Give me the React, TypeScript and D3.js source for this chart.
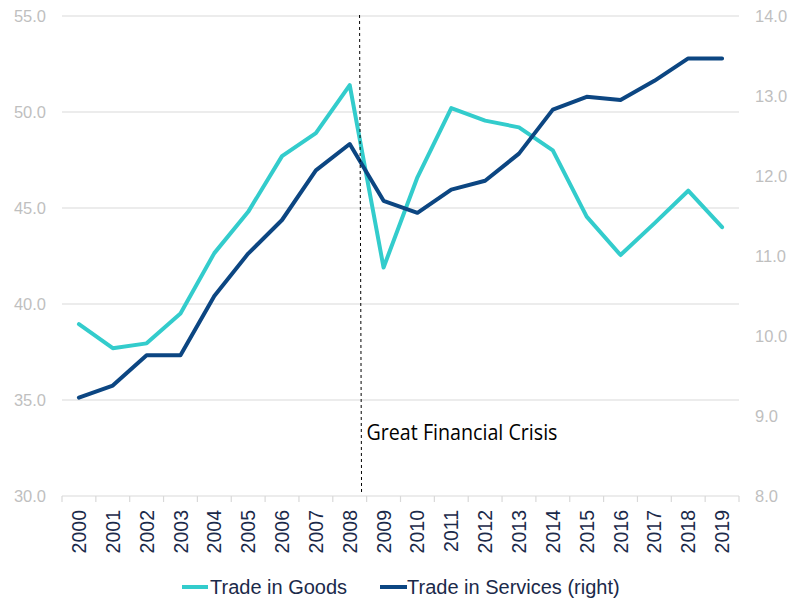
import React from "react";
import * as d3 from "d3";

const years = ["2000","2001","2002","2003","2004","2005","2006","2007","2008","2009","2010","2011","2012","2013","2014","2015","2016","2017","2018","2019"];
const goods = [38.95, 37.7, 37.95, 39.5, 42.65, 44.8, 47.7, 48.9, 51.4, 41.9, 46.6, 50.2, 49.55, 49.2, 48.0, 44.55, 42.55, 44.2, 45.9, 44.0];
const services = [9.23, 9.38, 9.76, 9.76, 10.5, 11.03, 11.45, 12.07, 12.4, 11.69, 11.54, 11.83, 11.94, 12.28, 12.83, 12.99, 12.95, 13.19, 13.47, 13.47];
const leftTicks = [30, 35, 40, 45, 50, 55];
const rightTicks = [8, 9, 10, 11, 12, 13, 14];
const seriesNames = ["Trade in Goods", "Trade in Services (right)"];
const annotation = "Great Financial Crisis";

const W = 790, H = 599;
const TEAL = "#33CCCC";
const NAVY = "#0C4682";
const TEXT_NAVY = "#1B2A4A";
const GREY_TXT = "#BFBFBF";
const GRID = "#D9D9D9";

export default function App() {
  const x = d3.scaleBand<string>().domain(years).range([62, 739]).padding(0);
  const bw = x.bandwidth();
  const cx = (y: string) => (x(y) as number) + bw / 2;
  const yL = d3.scaleLinear().domain([30, 55]).range([496, 16]);
  const yR = d3.scaleLinear().domain([8, 14]).range([496, 16]);

  const lineG = d3.line<number>().x((_, i) => cx(years[i])).y((d) => yL(d));
  const lineS = d3.line<number>().x((_, i) => cx(years[i])).y((d) => yR(d));

  const boundaries = years.map((y) => x(y) as number).concat([739]);
  const crisisX = cx("2008") + bw * 0.32;
  const font = "'Liberation Sans', Arial, sans-serif";

  return (
    <svg width={W} height={H} style={{ position: "absolute", left: 0, top: 0, background: "#fff" }} fontFamily={font}>
      {leftTicks.map((t) => (
        <line key={"g" + t} x1={62} x2={739} y1={yL(t)} y2={yL(t)} stroke={GRID} strokeWidth={1.2} />
      ))}
      {boundaries.map((b, i) => (
        <line key={"t" + i} x1={b} x2={b} y1={496} y2={502} stroke={GRID} strokeWidth={1.2} />
      ))}
      {leftTicks.map((t) => (
        <text key={"l" + t} x={46} y={yL(t)} dy="0.35em" textAnchor="end" fontSize={16.5} fill={GREY_TXT}>
          {t.toFixed(1)}
        </text>
      ))}
      {rightTicks.map((t) => (
        <text key={"r" + t} x={755} y={yR(t)} dy="0.35em" textAnchor="start" fontSize={16.5} fill={GREY_TXT}>
          {t.toFixed(1)}
        </text>
      ))}
      {years.map((y) => (
        <text key={"y" + y} transform={`translate(${cx(y)},510) rotate(-90)`} textAnchor="end" dy="0.36em" fontSize={19.5} fill={TEXT_NAVY}>
          {y}
        </text>
      ))}
      <path d={lineG(goods) || ""} fill="none" stroke={TEAL} strokeWidth={4} strokeLinejoin="round" strokeLinecap="round" />
      <path d={lineS(services) || ""} fill="none" stroke={NAVY} strokeWidth={4} strokeLinejoin="round" strokeLinecap="round" />
      <line x1={crisisX - 1} x2={crisisX + 1} y1={15} y2={495} stroke="#000" strokeWidth={1} strokeDasharray="3,3" />
      <text x={366.5} y={440} fontFamily="'Open Sans', 'Noto Sans', sans-serif" fontSize={21} textLength={191} lengthAdjust="spacingAndGlyphs" fill="#000">
        {annotation}
      </text>
      <line x1={182} x2={208} y1={587} y2={587} stroke={TEAL} strokeWidth={4} />
      <text x={210} y={587} dy="0.35em" fontSize={20} fill={TEXT_NAVY}>{seriesNames[0]}</text>
      <line x1={380} x2={407} y1={587} y2={587} stroke={NAVY} strokeWidth={4} />
      <text x={407} y={587} dy="0.35em" fontSize={20} fill={TEXT_NAVY}>{seriesNames[1]}</text>
    </svg>
  );
}
